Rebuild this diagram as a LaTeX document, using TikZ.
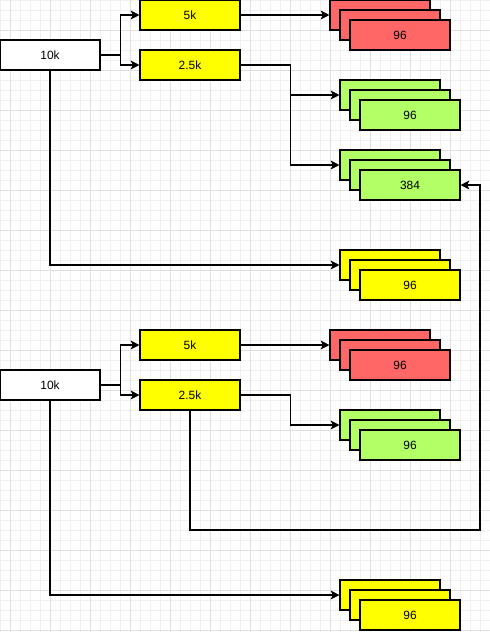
\documentclass[tikz,border=0pt]{standalone}
\usepackage{fontspec}
\setmainfont{Liberation Sans}
\usetikzlibrary{arrows.meta}

\definecolor{chunkyellow}{HTML}{FFFF00}
\definecolor{chunkred}{HTML}{FF6666}
\definecolor{chunkgreen}{HTML}{B3FF66}

\tikzset{
	box/.style={draw, line width=0.6pt, minimum width=2cm, minimum height=0.6cm, inner sep=0pt, font=\fontsize{6.8}{8}\selectfont},
	arr/.style={line width=0.6pt, -{Stealth[length=5pt,width=5pt,inset=1.2pt]}},
	minorgrid/.style={line width=0.3pt, black!6},
	majorgrid/.style={line width=0.4pt, black!12}
}

\begin{document}
\begin{tikzpicture}[x=0.02cm, y=-0.02cm]

\useasboundingbox (0,0) rectangle (490,632);
\fill[white] (0,0) rectangle (490,632);

% grid
\foreach \gx in {0,10,...,490} {
	\draw[minorgrid] (\gx,0) -- (\gx,632);
}
\foreach \gy in {0,10,...,630} {
	\draw[minorgrid] (0,\gy) -- (490,\gy);
}
\foreach \gx in {10,50,...,490} {
	\draw[majorgrid] (\gx,0) -- (\gx,632);
}
\foreach \gy in {30,70,...,630} {
	\draw[majorgrid] (0,\gy) -- (490,\gy);
}

% first run
\node[box, fill=white] (topA) at (50,55) {10k};
\node[box, fill=chunkyellow] (fiveA) at (190,15) {5k};
\node[box, fill=chunkyellow] (halfA) at (190,65) {2.5k};

\foreach \d in {0,10} {
	\node[box, fill=chunkred] (redA\d) at (380+\d,15+\d) {};
}
\node[box, fill=chunkred] (redA) at (400,35) {96};

\foreach \d in {0,10} {
	\node[box, fill=chunkgreen] (greenA\d) at (390+\d,95+\d) {};
}
\node[box, fill=chunkgreen] (greenA) at (410,115) {96};

\foreach \d in {0,10} {
	\node[box, fill=chunkgreen] (greenB\d) at (390+\d,165+\d) {};
}
\node[box, fill=chunkgreen] (greenB) at (410,185) {384};

\foreach \d in {0,10} {
	\node[box, fill=chunkyellow] (yellowA\d) at (390+\d,265+\d) {};
}
\node[box, fill=chunkyellow] (yellowA) at (410,285) {96};

\draw[arr] (topA.east) -- ++(20,0) |- (fiveA.west);
\draw[arr] (topA.east) -- ++(20,0) |- (halfA.west);
\draw[arr] (fiveA.east) -- (redA0.west);
\draw[arr] (halfA.east) -- ++(50,0) |- (greenA0.west);
\draw[arr] (halfA.east) -- ++(50,0) |- (greenB0.west);
\draw[arr] (topA.south) |- (yellowA0.west);

% second run
\node[box, fill=white] (topB) at (50,385) {10k};
\node[box, fill=chunkyellow] (fiveB) at (190,345) {5k};
\node[box, fill=chunkyellow] (halfB) at (190,395) {2.5k};

\foreach \d in {0,10} {
	\node[box, fill=chunkred] (redB\d) at (380+\d,345+\d) {};
}
\node[box, fill=chunkred] (redB) at (400,365) {96};

\foreach \d in {0,10} {
	\node[box, fill=chunkgreen] (greenC\d) at (390+\d,425+\d) {};
}
\node[box, fill=chunkgreen] (greenC) at (410,445) {96};

\foreach \d in {0,10} {
	\node[box, fill=chunkyellow] (yellowB\d) at (390+\d,595+\d) {};
}
\node[box, fill=chunkyellow] (yellowB) at (410,615) {96};

\coordinate (back) at (480,530);

\draw[arr] (topB.east) -- ++(20,0) |- (fiveB.west);
\draw[arr] (topB.east) -- ++(20,0) |- (halfB.west);
\draw[arr] (fiveB.east) -- (redB0.west);
\draw[arr] (halfB.east) -- ++(50,0) |- (greenC0.west);
\draw[arr] (halfB.south) |- (back) |- (greenB.east);
\draw[arr] (topB.south) |- (yellowB0.west);
\end{tikzpicture}
\end{document}
